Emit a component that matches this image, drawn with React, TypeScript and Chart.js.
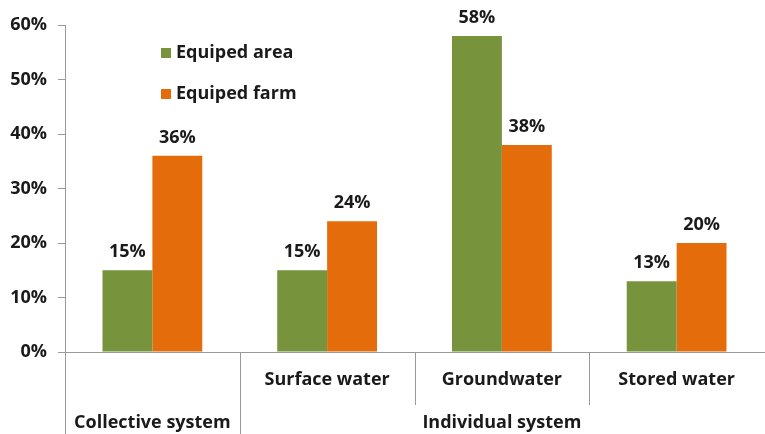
import React, { useEffect, useRef } from "react";
import { Chart, registerables } from "chart.js";

Chart.register(...registerables);

// ---- data ----
const subLabels = ["", "Surface water", "Groundwater", "Stored water"];
const groupNames = ["Collective system", "Individual system"];
const groupFirst = [0, 1];
const groupLast = [0, 3];
const seriesNames = ["Equiped area", "Equiped farm"];
const equipedArea = [15, 15, 58, 13];
const equipedFarm = [36, 24, 38, 20];
const yTicksMax = 60;
const yTickStep = 10;

const GREEN = "#77933C";
const ORANGE = "#E46C0A";
const TEXT = "#1a1a1a";
const AXIS = "#9a9a9a";
const FONT = "'Open Sans', 'DejaVu Sans', sans-serif";

const customPlugin = {
  id: "custom",
  afterDraw(chart: any) {
    const ctx = chart.ctx;
    const xs = chart.scales.x;
    const ys = chart.scales.y;
    const n = subLabels.length;
    const step = n > 1 ? xs.getPixelForValue(1) - xs.getPixelForValue(0) : xs.width;
    const boundary = (i: number) => xs.getPixelForValue(i) - step / 2;
    const axisY = ys.getPixelForValue(0);
    const bottom = chart.height;

    ctx.save();
    // separators
    ctx.strokeStyle = AXIS;
    ctx.lineWidth = 1;
    const groupStartSet = new Set(groupFirst);
    for (let i = 0; i < n; i++) {
      const x = Math.round(boundary(i)) + 0.5;
      const isGroup = groupStartSet.has(i);
      ctx.beginPath();
      ctx.moveTo(x, axisY);
      ctx.lineTo(x, isGroup ? bottom : axisY + 53);
      ctx.stroke();
    }

    // sub labels
    ctx.fillStyle = TEXT;
    ctx.textAlign = "center";
    ctx.textBaseline = "middle";
    ctx.font = `bold 18px ${FONT}`;
    for (let i = 0; i < n; i++) {
      if (subLabels[i]) ctx.fillText(subLabels[i], xs.getPixelForValue(i), axisY + 28);
    }
    // group labels
    for (let g = 0; g < groupNames.length; g++) {
      const cx = (boundary(groupFirst[g]) + boundary(groupLast[g]) + step) / 2;
      ctx.fillText(groupNames[g], cx, axisY + 71);
    }

    // data labels
    ctx.font = `bold 18px ${FONT}`;
    ctx.textBaseline = "alphabetic";
    chart.data.datasets.forEach((ds: any, di: number) => {
      const meta = chart.getDatasetMeta(di);
      meta.data.forEach((bar: any, i: number) => {
        ctx.fillText(ds.data[i] + "%", bar.x, bar.y - 13);
      });
    });

    // legend
    ctx.textAlign = "left";
    ctx.textBaseline = "middle";
    ctx.font = `bold 18px ${FONT}`;
    const lx = xs.left + 96;
    chart.data.datasets.forEach((ds: any, di: number) => {
      const cy = chart.chartArea.top + 28 + di * 41;
      ctx.fillStyle = ds.backgroundColor;
      ctx.fillRect(lx, cy - 5, 10, 10);
      ctx.fillStyle = TEXT;
      ctx.fillText(ds.label, lx + 15, cy);
    });
    ctx.restore();
  },
};

export default function App() {
  const ref = useRef<HTMLCanvasElement>(null);
  useEffect(() => {
    if (!ref.current) return;
    const chart = new Chart(ref.current, {
      type: "bar",
      data: {
        labels: subLabels,
        datasets: [
          { label: seriesNames[0], data: equipedArea, backgroundColor: GREEN },
          { label: seriesNames[1], data: equipedFarm, backgroundColor: ORANGE },
        ],
      },
      options: {
        animation: false,
        responsive: false,
        devicePixelRatio: 1,
        layout: { padding: { top: 25, left: 0, right: 1, bottom: 0 } },
        plugins: { legend: { display: false }, tooltip: { enabled: false } },
        datasets: { bar: { categoryPercentage: 0.571, barPercentage: 1 } },
        scales: {
          x: {
            ticks: { display: false },
            grid: { display: false },
            border: { display: true, color: AXIS, width: 1 },
            afterFit: (s: any) => {
              s.height = 82;
            },
          },
          y: {
            min: 0,
            max: yTicksMax,
            ticks: {
              stepSize: yTickStep,
              padding: 11,
              color: TEXT,
              font: { family: FONT, size: 18, weight: "bold" },
              callback: (v: any) => v + "%",
            },
            grid: { drawOnChartArea: false, drawTicks: true, tickLength: 7, color: AXIS },
            border: { display: true, color: AXIS, width: 1 },
            afterFit: (s: any) => {
              s.width = 65;
            },
          },
        },
      },
      plugins: [customPlugin],
    });
    return () => chart.destroy();
  }, []);
  return (
    <div style={{ position: "fixed", left: 0, top: 0, width: 765, height: 434, background: "#fff" }}>
      <canvas ref={ref} width={765} height={434} />
    </div>
  );
}
